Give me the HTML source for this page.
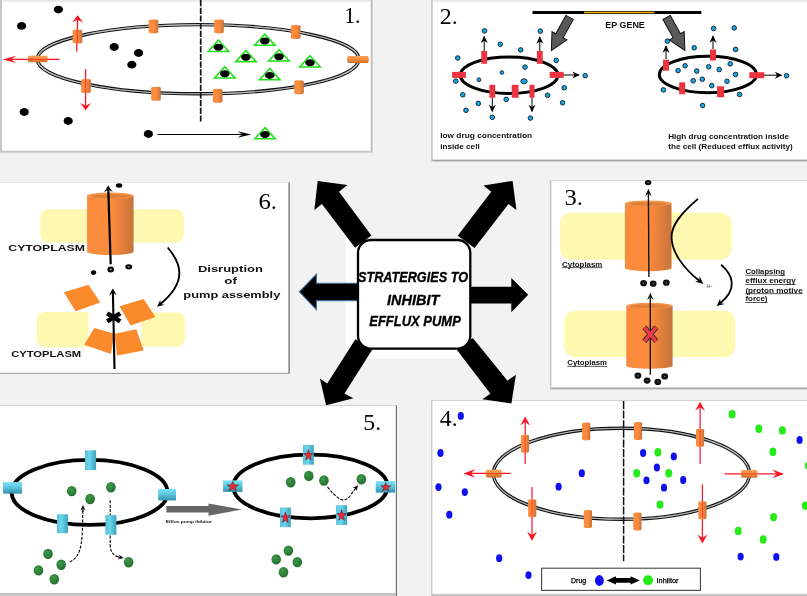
<!DOCTYPE html>
<html><head><meta charset="utf-8"><title>Strategies to inhibit efflux pump</title>
<style>
html,body{margin:0;padding:0;background:#f2f2f2;}
body{width:807px;height:596px;overflow:hidden;font-family:"Liberation Sans",sans-serif;}
svg{display:block;will-change:transform;}
.num{font-family:"Liberation Serif",serif;font-size:23px;fill:#000;}
.b{font-family:"Liberation Sans",sans-serif;font-weight:bold;fill:#111;}
.bi{font-family:"Liberation Sans",sans-serif;font-weight:bold;font-style:italic;fill:#000;stroke:#000;stroke-width:0.35px;}
</style></head><body>
<svg width="807" height="596" viewBox="0 0 807 596">
<defs>
<linearGradient id="og" x1="0" y1="0" x2="1" y2="0"><stop offset="0" stop-color="#fa8a3d"/><stop offset="0.5" stop-color="#fe8c3c"/><stop offset="0.78" stop-color="#e07e3c"/><stop offset="1" stop-color="#c4733b"/></linearGradient>
<linearGradient id="ogv" x1="0" y1="0" x2="0" y2="1"><stop offset="0" stop-color="#f9a05a"/><stop offset="0.5" stop-color="#f58a3c"/><stop offset="1" stop-color="#cf6f2c"/></linearGradient>
<linearGradient id="cy" x1="0" y1="0" x2="1" y2="0"><stop offset="0" stop-color="#55c2dc"/><stop offset="0.4" stop-color="#6ed5ea"/><stop offset="1" stop-color="#3ba2be"/></linearGradient>
<linearGradient id="cyv" x1="0" y1="0" x2="0" y2="1"><stop offset="0" stop-color="#7fe1f5"/><stop offset="0.45" stop-color="#5cc8e0"/><stop offset="1" stop-color="#3391ab"/></linearGradient>
<radialGradient id="gr" cx="0.4" cy="0.35" r="0.7"><stop offset="0" stop-color="#3f9a4a"/><stop offset="1" stop-color="#236b2c"/></radialGradient>
<marker id="ah" viewBox="0 0 10 10" refX="9" refY="5" markerWidth="7" markerHeight="7" orient="auto-start-reverse"><path d="M0,0.5 L10,5 L0,9.5 L3,5 Z" fill="#000"/></marker>
<marker id="ahm" viewBox="0 0 10 10" refX="9" refY="5" markerWidth="8.6" markerHeight="7.4" orient="auto-start-reverse" markerUnits="userSpaceOnUse"><path d="M0,0.3 L10,5 L0,9.7 L3,5 Z" fill="#000"/></marker>
<marker id="ahs" viewBox="0 0 10 10" refX="9" refY="5" markerWidth="5" markerHeight="5" orient="auto-start-reverse"><path d="M0,0.5 L10,5 L0,9.5 L3,5 Z" fill="#000"/></marker>
<marker id="ar" viewBox="0 0 10 10" refX="9" refY="5" markerWidth="9" markerHeight="9" orient="auto-start-reverse"><path d="M0,0.5 L10,5 L0,9.5 L3.2,5 Z" fill="#fa1422"/></marker>
</defs>
<rect x="0" y="0" width="807" height="596" fill="#f2f2f2"/>

<rect x="0" y="0" width="372.8" height="152.7" fill="#c6c6c6"/>
<rect x="1.9" y="0" width="368.7" height="1.4" fill="#e9e9e9"/>
<rect x="1.9" y="1.4" width="368.7" height="149.3" fill="#fff"/>
<rect x="431.2" y="0" width="375.8" height="161.6" fill="#c4c4c4"/>
<rect x="432.7" y="0" width="374.3" height="1.4" fill="#e9e9e9"/>
<rect x="432.7" y="1.4" width="374.3" height="158.1" fill="#fff"/>
<rect x="432.7" y="159.9" width="374.3" height="1.2" fill="#a4a4a4"/>
<rect x="0" y="182" width="289.7" height="192" fill="#c9c9c9"/>
<rect x="0" y="182.5" width="288.6" height="190.4" fill="#fff"/>
<rect x="288.6" y="182.5" width="1.1" height="191.3" fill="#6a6a6a"/>
<rect x="0" y="372.9" width="289" height="1" fill="#a0a0a0"/>
<rect x="549.9" y="180.3" width="257.1" height="209.3" fill="#c6c6c6"/>
<rect x="551.4" y="181" width="255.6" height="206.4" fill="#fff"/>
<rect x="551.4" y="387.8" width="255.6" height="1.2" fill="#a8a8a8"/>
<rect x="0" y="405.1" width="397" height="190.9" fill="#c4c4c4"/>
<rect x="0" y="405.8" width="395.5" height="187.2" fill="#fff"/>
<rect x="396.1" y="405.5" width="0.9" height="190.5" fill="#666"/>
<rect x="431.1" y="400.2" width="375.9" height="195.8" fill="#c6c6c6"/>
<rect x="432.4" y="400.9" width="374.6" height="192.9" fill="#fff"/>
<rect x="346" y="239" width="125" height="119.5" fill="#fff"/>
<polygon points="317.7,180.9 347.4,185.1 339,191.8 371.4,235.5 355.1,247.7 321.9,204.1 314.3,210" fill="#000"/>
<polygon points="512.6,180.9 483.4,185.5 491.2,191.8 457.7,235.8 474.5,248.1 508.5,204.1 516.4,210" fill="#000"/>
<polygon points="299.3,291.8 316.4,274.2 316.4,283.2 358.2,283.2 358.2,300.6 316.4,300.6 316.4,309.6" fill="#000" stroke="#41719c" stroke-width="1.1"/>
<polygon points="528.2,294.8 511.3,277.9 511.3,286.7 468.3,286.7 468.3,303.6 511.3,303.6 511.3,312.2" fill="#000"/>
<polygon points="355.4,339.3 372.2,349.8 344.5,393.5 353.4,398.3 326.1,405.2 319.9,378.4 327.2,383.4" fill="#000"/>
<polygon points="472.8,338.1 456.8,349.8 490.4,393.8 482.3,399.3 511.4,403.5 515.9,374.8 507.5,380.7" fill="#000"/>
<rect x="358" y="240" width="112.3" height="108.7" rx="13" ry="13" fill="#fff" stroke="#000" stroke-width="2.3"/>
<text class="bi" x="358" y="282.1" font-size="15.4" textLength="110" lengthAdjust="spacingAndGlyphs">STRATERGIES TO</text>
<text class="bi" x="387" y="304.6" font-size="15.4" textLength="52.4" lengthAdjust="spacingAndGlyphs">INHIBIT</text>
<text class="bi" x="369.3" y="326" font-size="15.4" textLength="91.5" lengthAdjust="spacingAndGlyphs">EFFLUX PUMP</text>
<ellipse cx="198.1" cy="59.2" rx="160.8" ry="34.6" fill="none" stroke="#111" stroke-width="3.4"/>
<ellipse cx="198.1" cy="59.2" rx="160.8" ry="34.6" fill="none" stroke="#fff" stroke-width="1.1"/>
<ellipse cx="198.1" cy="59.2" rx="160.8" ry="34.6" fill="none" stroke="#222" stroke-width="0.35"/>
<line x1="200.7" y1="0" x2="200.7" y2="121.5" stroke="#111" stroke-width="1.7" stroke-dasharray="6.2,1.5"/>
<ellipse cx="58.4" cy="9.6" rx="4.6" ry="3.9" fill="#000"/>
<ellipse cx="21.6" cy="25.9" rx="4.6" ry="3.9" fill="#000"/>
<ellipse cx="114.2" cy="47" rx="4.6" ry="3.9" fill="#000"/>
<ellipse cx="138.6" cy="53" rx="4.6" ry="3.9" fill="#000"/>
<ellipse cx="131.8" cy="64.7" rx="4.6" ry="3.9" fill="#000"/>
<ellipse cx="24.2" cy="112" rx="4.6" ry="3.9" fill="#000"/>
<ellipse cx="68.2" cy="121" rx="4.6" ry="3.9" fill="#000"/>
<ellipse cx="148.4" cy="134" rx="4.6" ry="3.9" fill="#000"/>
<line x1="76.6" y1="51.8" x2="77.7" y2="19.8" stroke="#fa1422" stroke-width="1.25"/><polygon points="77.8,15.3 83.1,22.7 77.7,19.8 72.1,22.3" fill="#fa1422"/>
<line x1="59.5" y1="59.4" x2="11.1" y2="59.4" stroke="#fa1422" stroke-width="1.25"/><polygon points="2.7,59.4 16.2,55.7 11.1,59.4 16.2,63.1" fill="#fa1422"/>
<line x1="85.6" y1="69" x2="85.6" y2="105.8" stroke="#fa1422" stroke-width="1.25"/><polygon points="85.6,110.3 80.1,103.1 85.6,105.8 91.1,103.1" fill="#fa1422"/>
<path d="M72.7,30.8 A4.8,1.3 0 0 1 82.3,30.8 L82.3,42.2 A4.8,1.3 0 0 1 72.7,42.2 Z" fill="url(#og)"/>
<path d="M81.2,80.3 A4.8,1.3 0 0 1 90.8,80.3 L90.8,91.7 A4.8,1.3 0 0 1 81.2,91.7 Z" fill="url(#og)"/>
<path d="M148.7,20.7 A4.8,1.3 0 0 1 158.3,20.7 L158.3,32.1 A4.8,1.3 0 0 1 148.7,32.1 Z" fill="url(#og)"/>
<path d="M151.2,88.1 A4.8,1.3 0 0 1 160.8,88.1 L160.8,99.5 A4.8,1.3 0 0 1 151.2,99.5 Z" fill="url(#og)"/>
<path d="M214.2,20.7 A4.8,1.3 0 0 1 223.8,20.7 L223.8,32.1 A4.8,1.3 0 0 1 214.2,32.1 Z" fill="url(#og)"/>
<path d="M290.9,26.3 A4.8,1.3 0 0 1 300.5,26.3 L300.5,37.7 A4.8,1.3 0 0 1 290.9,37.7 Z" fill="url(#og)"/>
<path d="M294.2,81.6 A4.8,1.3 0 0 1 303.8,81.6 L303.8,93.0 A4.8,1.3 0 0 1 294.2,93.0 Z" fill="url(#og)"/>
<path d="M212.9,90.1 A4.8,1.3 0 0 1 222.5,90.1 L222.5,101.5 A4.8,1.3 0 0 1 212.9,101.5 Z" fill="url(#og)"/>
<path d="M29.0,55.8 L46.4,55.8 A1.3,3.2 0 0 1 46.4,62.2 L29.0,62.2 A1.3,3.2 0 0 1 29.0,55.8 Z" fill="url(#ogv)"/>
<path d="M348.5,55.9 L367.5,55.9 A1.3,3.5 0 0 1 367.5,62.9 L348.5,62.9 A1.3,3.5 0 0 1 348.5,55.9 Z" fill="url(#ogv)"/>
<line x1="77.3" y1="30" x2="77.6" y2="43" stroke="#fa1422" stroke-width="0.9" opacity="0.75"/>
<line x1="85.6" y1="79" x2="85.6" y2="93" stroke="#fa1422" stroke-width="0.9" opacity="0.75"/>
<line x1="28" y1="59.4" x2="48" y2="59.4" stroke="#fa1422" stroke-width="0.9" opacity="0.75"/>
<polygon points="218.5,40.3 228.7,51.5 208.3,51.5" fill="#fff" stroke="#1fe01a" stroke-width="1.6" stroke-linejoin="miter"/>
<ellipse cx="218.5" cy="47.2" rx="4.8" ry="3.5" fill="#000"/>
<polygon points="264.8,34.1 275.0,45.3 254.6,45.3" fill="#fff" stroke="#1fe01a" stroke-width="1.6" stroke-linejoin="miter"/>
<ellipse cx="264.8" cy="41.0" rx="4.8" ry="3.5" fill="#000"/>
<polygon points="245.9,50.4 256.1,61.6 235.7,61.6" fill="#fff" stroke="#1fe01a" stroke-width="1.6" stroke-linejoin="miter"/>
<ellipse cx="245.9" cy="57.3" rx="4.8" ry="3.5" fill="#000"/>
<polygon points="279.0,49.8 289.2,61.0 268.8,61.0" fill="#fff" stroke="#1fe01a" stroke-width="1.6" stroke-linejoin="miter"/>
<ellipse cx="279" cy="56.7" rx="4.8" ry="3.5" fill="#000"/>
<polygon points="310.0,55.8 320.2,67.0 299.8,67.0" fill="#fff" stroke="#1fe01a" stroke-width="1.6" stroke-linejoin="miter"/>
<ellipse cx="310" cy="62.7" rx="4.8" ry="3.5" fill="#000"/>
<polygon points="224.8,66.8 235.0,78.0 214.6,78.0" fill="#fff" stroke="#1fe01a" stroke-width="1.6" stroke-linejoin="miter"/>
<ellipse cx="224.8" cy="73.7" rx="4.8" ry="3.5" fill="#000"/>
<polygon points="269.8,68.5 280.0,79.7 259.6,79.7" fill="#fff" stroke="#1fe01a" stroke-width="1.6" stroke-linejoin="miter"/>
<ellipse cx="269.8" cy="75.4" rx="4.8" ry="3.5" fill="#000"/>
<polygon points="265.0,127.6 275.2,138.8 254.8,138.8" fill="#fff" stroke="#1fe01a" stroke-width="1.6" stroke-linejoin="miter"/>
<ellipse cx="265" cy="134.5" rx="4.8" ry="3.5" fill="#000"/>
<line x1="157.5" y1="134.5" x2="242.6" y2="134.5" stroke="#000" stroke-width="1.0"/><polygon points="251.3,134.5 237.3,137.8 242.6,134.5 237.3,131.2" fill="#000"/>
<text class="num" x="344.2" y="22.6" textLength="16.4" lengthAdjust="spacingAndGlyphs">1.</text>
<text class="num" x="439.8" y="24.2" font-size="24.5" textLength="18" lengthAdjust="spacingAndGlyphs">2.</text>
<rect x="532.5" y="11" width="168.8" height="3" fill="#000"/>
<rect x="584" y="11.7" width="70.5" height="1.6" fill="#f4b400"/>
<text class="b" x="605.3" y="28.4" font-size="9.2" textLength="39.5" lengthAdjust="spacingAndGlyphs">EP GENE</text>
<g transform="translate(569.6,17.4) rotate(28.9)"><polygon points="-4.2,0 4.2,0 4.2,21 8.5,21 0,37.8 -8.5,21 -4.2,21" fill="#595959" stroke="#111" stroke-width="1"/></g>
<g transform="translate(666.6,17.4) rotate(-28.9)"><polygon points="-4.2,0 4.2,0 4.2,21 8.5,21 0,37.8 -8.5,21 -4.2,21" fill="#595959" stroke="#111" stroke-width="1"/></g>
<ellipse cx="509.1" cy="75.3" rx="48.8" ry="18.2" fill="none" stroke="#000" stroke-width="3"/>
<circle cx="484.5" cy="30.9" r="2.3" fill="#1ea3e3" stroke="#06202e" stroke-width="0.9"/>
<circle cx="540.3" cy="31.1" r="2.3" fill="#1ea3e3" stroke="#06202e" stroke-width="0.9"/>
<circle cx="500.3" cy="44.3" r="2.3" fill="#1ea3e3" stroke="#06202e" stroke-width="0.9"/>
<circle cx="520.7" cy="49.9" r="2.3" fill="#1ea3e3" stroke="#06202e" stroke-width="0.9"/>
<circle cx="457.7" cy="58" r="2.3" fill="#1ea3e3" stroke="#06202e" stroke-width="0.9"/>
<circle cx="556.2" cy="60.4" r="2.3" fill="#1ea3e3" stroke="#06202e" stroke-width="0.9"/>
<circle cx="525" cy="67.1" r="2.3" fill="#1ea3e3" stroke="#06202e" stroke-width="0.9"/>
<circle cx="585.2" cy="75.7" r="2.3" fill="#1ea3e3" stroke="#06202e" stroke-width="0.9"/>
<circle cx="455.8" cy="81.1" r="2.3" fill="#1ea3e3" stroke="#06202e" stroke-width="0.9"/>
<circle cx="564.2" cy="87.8" r="2.3" fill="#1ea3e3" stroke="#06202e" stroke-width="0.9"/>
<circle cx="462.8" cy="94.8" r="2.3" fill="#1ea3e3" stroke="#06202e" stroke-width="0.9"/>
<circle cx="547.6" cy="95.3" r="2.3" fill="#1ea3e3" stroke="#06202e" stroke-width="0.9"/>
<circle cx="506.2" cy="99.3" r="2.3" fill="#1ea3e3" stroke="#06202e" stroke-width="0.9"/>
<circle cx="478.3" cy="103.4" r="2.3" fill="#1ea3e3" stroke="#06202e" stroke-width="0.9"/>
<circle cx="562.6" cy="102.8" r="2.3" fill="#1ea3e3" stroke="#06202e" stroke-width="0.9"/>
<circle cx="466" cy="110.3" r="2.3" fill="#1ea3e3" stroke="#06202e" stroke-width="0.9"/>
<circle cx="492.3" cy="117.3" r="2.3" fill="#1ea3e3" stroke="#06202e" stroke-width="0.9"/>
<circle cx="530.4" cy="118.1" r="2.3" fill="#1ea3e3" stroke="#06202e" stroke-width="0.9"/>
<circle cx="501.9" cy="72.5" r="1.8" fill="#1ea3e3" stroke="#06202e" stroke-width="0.9"/>
<circle cx="478.9" cy="79.7" r="1.9" fill="#1ea3e3" stroke="#06202e" stroke-width="0.9"/>
<ellipse cx="524" cy="81.3" rx="3.2" ry="2.5" fill="#1ea3e3" stroke="#06202e" stroke-width="0.9"/>
<line x1="484.2" y1="51" x2="484.2" y2="36.4" stroke="#000" stroke-width="1" marker-end="url(#ahm)"/>
<line x1="539.8" y1="51" x2="539.8" y2="37" stroke="#000" stroke-width="1" marker-end="url(#ahm)"/>
<line x1="563" y1="75" x2="579" y2="75" stroke="#000" stroke-width="1" marker-end="url(#ahm)"/>
<line x1="492.3" y1="98" x2="492.3" y2="111.4" stroke="#000" stroke-width="1" marker-end="url(#ahm)"/>
<line x1="532" y1="98" x2="532" y2="111.4" stroke="#000" stroke-width="1" marker-end="url(#ahm)"/>
<rect x="481.3" y="51.0" width="5.8" height="12.8" fill="#ea3440"/>
<rect x="536.9" y="51.0" width="5.8" height="12.8" fill="#ea3440"/>
<rect x="452.1" y="71.9" width="13.8" height="6" fill="#ea3440"/>
<rect x="549.7" y="71.9" width="14" height="6" fill="#ea3440"/>
<rect x="489.4" y="84.8" width="5.8" height="13" fill="#ea3440"/>
<rect x="511.7" y="84.8" width="6.8" height="13" fill="#ea3440"/>
<rect x="529.5" y="84.8" width="5" height="13" fill="#ea3440"/>
<text class="b" x="440.2" y="138.2" font-size="8.1" textLength="92" lengthAdjust="spacingAndGlyphs">low drug  concentration</text>
<text class="b" x="440.2" y="148.6" font-size="8.1" textLength="39.5" lengthAdjust="spacingAndGlyphs">inside cell</text>
<ellipse cx="707.9" cy="74.5" rx="48.6" ry="18.2" fill="none" stroke="#000" stroke-width="3"/>
<circle cx="713.6" cy="28.5" r="2.3" fill="#1ea3e3" stroke="#06202e" stroke-width="0.9"/>
<circle cx="734.2" cy="27.9" r="2.3" fill="#1ea3e3" stroke="#06202e" stroke-width="0.9"/>
<circle cx="667.4" cy="41.1" r="2.3" fill="#1ea3e3" stroke="#06202e" stroke-width="0.9"/>
<circle cx="694.2" cy="47.8" r="2.3" fill="#1ea3e3" stroke="#06202e" stroke-width="0.9"/>
<circle cx="735.6" cy="49.4" r="2.3" fill="#1ea3e3" stroke="#06202e" stroke-width="0.9"/>
<circle cx="685.1" cy="65.8" r="2.3" fill="#1ea3e3" stroke="#06202e" stroke-width="0.9"/>
<circle cx="678.1" cy="70.6" r="2.3" fill="#1ea3e3" stroke="#06202e" stroke-width="0.9"/>
<circle cx="696.7" cy="71.1" r="2.3" fill="#1ea3e3" stroke="#06202e" stroke-width="0.9"/>
<circle cx="708.7" cy="66.8" r="2.3" fill="#1ea3e3" stroke="#06202e" stroke-width="0.9"/>
<circle cx="719.2" cy="69.5" r="2.3" fill="#1ea3e3" stroke="#06202e" stroke-width="0.9"/>
<circle cx="730.2" cy="63.9" r="2.3" fill="#1ea3e3" stroke="#06202e" stroke-width="0.9"/>
<circle cx="735.6" cy="74.4" r="2.3" fill="#1ea3e3" stroke="#06202e" stroke-width="0.9"/>
<circle cx="693.2" cy="80.8" r="2.3" fill="#1ea3e3" stroke="#06202e" stroke-width="0.9"/>
<circle cx="702.3" cy="79.2" r="2.3" fill="#1ea3e3" stroke="#06202e" stroke-width="0.9"/>
<circle cx="727" cy="81.3" r="2.3" fill="#1ea3e3" stroke="#06202e" stroke-width="0.9"/>
<circle cx="711.7" cy="85.6" r="2.3" fill="#1ea3e3" stroke="#06202e" stroke-width="0.9"/>
<circle cx="786.6" cy="75.7" r="2.3" fill="#1ea3e3" stroke="#06202e" stroke-width="0.9"/>
<circle cx="663.4" cy="89.9" r="2.3" fill="#1ea3e3" stroke="#06202e" stroke-width="0.9"/>
<circle cx="739.6" cy="94.5" r="2.3" fill="#1ea3e3" stroke="#06202e" stroke-width="0.9"/>
<circle cx="702.6" cy="105.5" r="2.3" fill="#1ea3e3" stroke="#06202e" stroke-width="0.9"/>
<line x1="666" y1="59" x2="666" y2="46" stroke="#000" stroke-width="1" marker-end="url(#ahm)"/>
<line x1="713" y1="49" x2="713" y2="36" stroke="#000" stroke-width="1" marker-end="url(#ahm)"/>
<line x1="764" y1="75.2" x2="781.5" y2="75.2" stroke="#000" stroke-width="1" marker-end="url(#ahm)"/>
<rect x="663.0" y="59.7" width="6" height="11" fill="#ea3440"/>
<rect x="710.0" y="49.5" width="6" height="11" fill="#ea3440"/>
<rect x="749.3" y="72.2" width="15" height="6" fill="#ea3440"/>
<rect x="679.2" y="82.3" width="6" height="12" fill="#ea3440"/>
<rect x="717.1" y="86.3" width="7" height="11" fill="#ea3440"/>
<text class="b" x="668.2" y="138.8" font-size="8.1" textLength="120.8" lengthAdjust="spacingAndGlyphs">High drug concentration inside</text>
<text class="b" x="668.2" y="149.1" font-size="8.1" textLength="124.6" lengthAdjust="spacingAndGlyphs">the cell (Reduced efflux activity)</text><rect x="40.3" y="209.3" width="143.5" height="33.4" rx="8" ry="8" fill="#fff8b0"/>
<path d="M87.1,195.8 L87.1,251.7 A23.2,3.3 0 0 0 133.6,251.7 L133.6,195.8 Z" fill="url(#og)"/>
<ellipse cx="110.35" cy="195.8" rx="23.2" ry="3.3" fill="#f7954a"/>
<ellipse cx="110.35" cy="196.20000000000002" rx="19.2" ry="2.2" fill="#e07f3a"/>
<line x1="110.7" y1="264.3" x2="108.3" y2="189.6" stroke="#000" stroke-width="2.2"/><polygon points="108.2,185.6 112.7,192.0 108.3,189.6 104.1,192.2" fill="#000"/>
<ellipse cx="119.1" cy="185.5" rx="3.2" ry="2.2" fill="#000"/>
<text class="b" x="8.3" y="250.5" font-size="9.4" textLength="76.7" lengthAdjust="spacingAndGlyphs">CYTOPLASM</text>
<ellipse cx="93.6" cy="272.6" rx="2.6" ry="2.3" fill="#000"/>
<ellipse cx="110.7" cy="269.6" rx="2.3" ry="2" fill="#888" stroke="#000" stroke-width="2"/>
<ellipse cx="128.8" cy="266.8" rx="2.6" ry="1.6" fill="#999" stroke="#000" stroke-width="1.9"/>
<path d="M167.7,247.5 C180,262 189,281 160,304.3" fill="none" stroke="#000" stroke-width="1.9"/>
<line x1="163" y1="301.7" x2="160.4" y2="303.9" stroke="#000" stroke-width="1.5"/><polygon points="157.1,306.7 160.3,299.7 160.4,303.9 164.5,304.7" fill="#000"/>
<path d="M44.7,312 L88.5,312 L88.5,347.2 L44.7,347.2 A8,8 0 0 1 36.7,339.2 L36.7,320 A8,8 0 0 1 44.7,312 Z" fill="#fff8b0"/>
<path d="M141.3,312.5 L177.1,312.5 A8,8 0 0 1 185.1,320.5 L185.1,338.7 A8,8 0 0 1 177.1,346.7 L141.3,346.7 Z" fill="#fff8b0"/>
<polygon points="63.9,292.2 88.5,284.7 100.4,302.6 75.6,311.3" fill="#fb8a2c"/>
<polygon points="119.5,306.3 143.7,299.1 155.4,317 130.6,325.6" fill="#fb8a2c"/>
<polygon points="94.2,328.1 114.5,333.8 110.8,354.1 84.3,344.7" fill="#fb8a2c"/>
<polygon points="114.5,333.8 136.3,329.3 143.7,350.4 117,355.4" fill="#fb8a2c"/>
<line x1="114.5" y1="369" x2="112.9" y2="292.7" stroke="#000" stroke-width="2.1"/><polygon points="112.8,288.4 116.7,295.3 112.9,292.7 109.1,295.5" fill="#000"/>
<path d="M107.2,313.4 L120.2,321.4 M120.2,313.4 L107.2,321.4" stroke="#000" stroke-width="4.6" fill="none"/>
<text class="b" x="11.2" y="357" font-size="8.6" textLength="70" lengthAdjust="spacingAndGlyphs">CYTOPLASM</text>
<text class="b" x="197.9" y="271.9" font-size="9.6" textLength="65" lengthAdjust="spacingAndGlyphs">Disruption</text>
<text class="b" x="224.3" y="284.4" font-size="9.6" textLength="12.6" lengthAdjust="spacingAndGlyphs">of</text>
<text class="b" x="183.3" y="297.5" font-size="9.6" textLength="97" lengthAdjust="spacingAndGlyphs">pump assembly</text>
<text class="num" x="258.4" y="208.5" textLength="18.6" lengthAdjust="spacingAndGlyphs">6.</text>
<rect x="560" y="212.7" width="171.7" height="47.1" rx="11" ry="11" fill="#fff8b0"/>
<rect x="564.3" y="310.8" width="171" height="46.3" rx="11" ry="11" fill="#fff8b0"/>
<path d="M625,203.4 L625,268.2 A23.2,3.0 0 0 0 671.5,268.2 L671.5,203.4 Z" fill="url(#og)"/>
<ellipse cx="648.25" cy="203.4" rx="23.2" ry="3.0" fill="#f7954a"/>
<ellipse cx="648.25" cy="203.8" rx="19.2" ry="1.9" fill="#e07f3a"/>
<path d="M626.3,305.8 L626.3,366.0 A23.2,3.0 0 0 0 672.6,366.0 L672.6,305.8 Z" fill="url(#og)"/>
<ellipse cx="649.45" cy="305.8" rx="23.2" ry="3.0" fill="#f7954a"/>
<ellipse cx="649.45" cy="306.2" rx="19.2" ry="1.9" fill="#e07f3a"/>
<line x1="648.9" y1="276.9" x2="648.4" y2="193.4" stroke="#151515" stroke-width="1.4"/><polygon points="648.4,188.8 651.7,196.3 648.4,193.4 645.1,196.3" fill="#151515"/>
<line x1="650.3" y1="374.7" x2="650.3" y2="297.3" stroke="#151515" stroke-width="1.4"/><polygon points="650.3,292.7 653.6,300.2 650.3,297.3 647.0,300.2" fill="#151515"/>
<ellipse cx="648.1" cy="182.6" rx="3.3" ry="2.7" fill="#111"/><circle cx="648.1" cy="182.6" r="0.7" fill="#888"/>
<ellipse cx="643.6" cy="283.2" rx="3.4" ry="3.1" fill="#111"/><circle cx="643.6" cy="283.2" r="0.7" fill="#777"/>
<ellipse cx="653.2" cy="283.7" rx="3.4" ry="3.1" fill="#111"/><circle cx="653.2" cy="283.7" r="0.7" fill="#777"/>
<ellipse cx="666.3" cy="282.7" rx="3.4" ry="3.1" fill="#111"/><circle cx="666.3" cy="282.7" r="0.7" fill="#777"/>
<ellipse cx="637.9" cy="375.7" rx="3.4" ry="3.1" fill="#111"/><circle cx="637.9" cy="375.7" r="0.7" fill="#777"/>
<ellipse cx="647.1" cy="380.6" rx="3.4" ry="3.1" fill="#111"/><circle cx="647.1" cy="380.6" r="0.7" fill="#777"/>
<ellipse cx="657.8" cy="381.9" rx="3.4" ry="3.1" fill="#111"/><circle cx="657.8" cy="381.9" r="0.7" fill="#777"/>
<ellipse cx="664.7" cy="376.4" rx="3.4" ry="3.1" fill="#111"/><circle cx="664.7" cy="376.4" r="0.7" fill="#777"/>
<path d="M698,198.9 C680,214 671,226 671.6,238 C672,252 683,268 699.5,281" fill="none" stroke="#000" stroke-width="1.8"/>
<line x1="697" y1="278.6" x2="699.5" y2="280.8" stroke="#000" stroke-width="1.5"/><polygon points="703.3,284.0 694.9,281.5 699.5,280.8 699.5,276.1" fill="#000"/>
<path d="M721.1,264.8 C733,275 738,289 720,303.3" fill="none" stroke="#000" stroke-width="1.8"/>
<line x1="722.5" y1="301.2" x2="720.2" y2="303.1" stroke="#000" stroke-width="1.5"/><polygon points="716.6,306.0 720.2,298.6 720.2,303.1 724.6,304.0" fill="#000"/>
<text x="706.6" y="288.4" font-size="5.4" font-family="Liberation Sans, sans-serif" fill="#555">H<tspan dy="-1.8" font-size="3.6">+</tspan></text>
<path d="M644.3,327.3 L656.3,341.3 M656.3,327.3 L644.3,341.3" stroke="#3a2a2a" stroke-width="5.2" fill="none"/>
<path d="M644.3,327.3 L656.3,341.3 M656.3,327.3 L644.3,341.3" stroke="#ee3a48" stroke-width="3.4" fill="none"/>
<text class="b" x="562.1" y="266.5" font-size="7.0" textLength="40.3" lengthAdjust="spacingAndGlyphs">Cytoplasm</text>
<rect x="562.1" y="267.4" width="40.3" height="0.7" fill="#111"/>
<text class="b" x="567.3" y="365" font-size="7.0" textLength="39.7" lengthAdjust="spacingAndGlyphs">Cytoplasm</text>
<rect x="567.3" y="365.9" width="39.7" height="0.7" fill="#111"/>
<text class="b" x="745.4" y="273.9" font-size="7.0" textLength="39.7" lengthAdjust="spacingAndGlyphs">Collapsing</text>
<rect x="745.4" y="274.79999999999995" width="39.7" height="0.7" fill="#111"/>
<text class="b" x="745.4" y="283.2" font-size="7.0" textLength="50.3" lengthAdjust="spacingAndGlyphs">efflux energy</text>
<rect x="745.4" y="284.09999999999997" width="50.3" height="0.7" fill="#111"/>
<text class="b" x="745.4" y="292.5" font-size="7.0" textLength="57.3" lengthAdjust="spacingAndGlyphs">(proton motive</text>
<rect x="745.4" y="293.4" width="57.3" height="0.7" fill="#111"/>
<text class="b" x="745.4" y="301.3" font-size="7.0" textLength="22.1" lengthAdjust="spacingAndGlyphs">force)</text>
<rect x="745.4" y="302.2" width="22.1" height="0.7" fill="#111"/>
<text class="num" x="564.4" y="204.7" font-size="24" textLength="18.4" lengthAdjust="spacingAndGlyphs">3.</text>
<ellipse cx="89.6" cy="492.4" rx="78" ry="32.5" fill="none" stroke="#000" stroke-width="3.8"/>
<ellipse cx="310.4" cy="486.5" rx="77.2" ry="31.8" fill="none" stroke="#000" stroke-width="3.8"/>
<path d="M69.7,561.8 C84,556 82,535 82.9,509" fill="none" stroke="#000" stroke-width="1.1" stroke-dasharray="3,1.4"/>
<line x1="82.9" y1="512" x2="83.0" y2="508.4" stroke="#000" stroke-width="1"/><polygon points="83.0,505.0 85.4,510.5 83.0,508.4 80.4,510.5" fill="#000"/>
<path d="M110.2,500.3 L110.2,545 C110.5,553 114,556 120,557.3" fill="none" stroke="#000" stroke-width="1.1" stroke-dasharray="3,1.4"/>
<line x1="118" y1="556.9" x2="120.3" y2="557.3" stroke="#000" stroke-width="1"/><polygon points="123.6,558.0 117.7,559.4 120.3,557.3 118.7,554.5" fill="#000"/>
<path d="M327.5,487.1 C336,497 343,505 350,496 C352,493 354,490.5 355.5,488.5" fill="none" stroke="#000" stroke-width="1.1" stroke-dasharray="3,1.4"/>
<line x1="354" y1="490.5" x2="355.9" y2="488.0" stroke="#000" stroke-width="1"/><polygon points="358.0,485.3 356.6,491.2 355.9,488.0 352.7,488.1" fill="#000"/>
<rect x="84.9" y="450.3" width="11.2" height="19.7" fill="url(#cy)"/>
<rect x="3.0" y="482.1" width="19" height="11.5" fill="url(#cyv)"/>
<rect x="158.2" y="488.9" width="17.8" height="11.5" fill="url(#cyv)"/>
<rect x="57.0" y="514.2" width="10.9" height="19" fill="url(#cy)"/>
<rect x="105.5" y="515.1" width="10.9" height="19.7" fill="url(#cy)"/>
<rect x="303.0" y="445.0" width="10.8" height="19.7" fill="url(#cy)"/>
<rect x="223.1" y="480.4" width="19.4" height="11.5" fill="url(#cyv)"/>
<rect x="375.7" y="481.1" width="19.4" height="11.5" fill="url(#cyv)"/>
<rect x="280.0" y="507.5" width="10.8" height="19.7" fill="url(#cy)"/>
<rect x="336.1" y="505.2" width="11" height="19.7" fill="url(#cy)"/>
<polygon points="308.40,449.58 309.58,453.42 312.95,453.60 310.31,456.16 311.21,460.11 308.40,457.85 305.59,460.11 306.49,456.16 303.85,453.60 307.22,453.42" fill="#ee2a3a" stroke="#5a2020" stroke-width="0.6"/>
<polygon points="232.80,481.40 234.28,484.83 238.49,484.99 235.19,487.27 236.31,490.81 232.80,488.78 229.29,490.81 230.41,487.27 227.11,484.99 231.32,484.83" fill="#ee2a3a" stroke="#5a2020" stroke-width="0.6"/>
<polygon points="385.80,482.60 387.07,485.64 390.70,485.78 387.86,487.80 388.83,490.92 385.80,489.13 382.77,490.92 383.74,487.80 380.90,485.78 384.53,485.64" fill="#ee2a3a" stroke="#5a2020" stroke-width="0.6"/>
<polygon points="285.40,511.98 286.58,515.82 289.95,516.00 287.31,518.56 288.21,522.51 285.40,520.25 282.59,522.51 283.49,518.56 280.85,516.00 284.22,515.82" fill="#ee2a3a" stroke="#5a2020" stroke-width="0.6"/>
<polygon points="341.60,509.68 342.78,513.52 346.15,513.70 343.51,516.26 344.41,520.21 341.60,517.95 338.79,520.21 339.69,516.26 337.05,513.70 340.42,513.52" fill="#ee2a3a" stroke="#5a2020" stroke-width="0.6"/>
<ellipse cx="71.7" cy="491.1" rx="4.8" ry="5.2" fill="url(#gr)"/>
<ellipse cx="90.1" cy="499" rx="4.8" ry="5.2" fill="url(#gr)"/>
<ellipse cx="110.9" cy="487.2" rx="4.8" ry="5.2" fill="url(#gr)"/>
<ellipse cx="48" cy="553.9" rx="4.8" ry="5.2" fill="url(#gr)"/>
<ellipse cx="61.2" cy="564.8" rx="4.8" ry="5.2" fill="url(#gr)"/>
<ellipse cx="38.5" cy="570.4" rx="4.8" ry="5.2" fill="url(#gr)"/>
<ellipse cx="54.3" cy="579.3" rx="4.8" ry="5.2" fill="url(#gr)"/>
<ellipse cx="128.6" cy="562.2" rx="4.8" ry="5.2" fill="url(#gr)"/>
<ellipse cx="290.7" cy="482.2" rx="4.8" ry="5.2" fill="url(#gr)"/>
<ellipse cx="308.8" cy="475.9" rx="4.8" ry="5.2" fill="url(#gr)"/>
<ellipse cx="323.9" cy="480.5" rx="4.8" ry="5.2" fill="url(#gr)"/>
<ellipse cx="361.4" cy="479.2" rx="4.8" ry="5.2" fill="url(#gr)"/>
<ellipse cx="288.4" cy="550.6" rx="4.8" ry="5.2" fill="url(#gr)"/>
<ellipse cx="276.2" cy="559.4" rx="4.8" ry="5.2" fill="url(#gr)"/>
<ellipse cx="297.3" cy="562.1" rx="4.8" ry="5.2" fill="url(#gr)"/>
<ellipse cx="283.5" cy="572.3" rx="4.8" ry="5.2" fill="url(#gr)"/>
<polygon points="166.4,505.9 208.5,505.9 208.5,503.4 242,509.4 208.5,515.8 208.5,512.4 166.4,512.4" fill="#666"/>
<text class="b" x="165.8" y="522.6" font-size="4.3" textLength="46" lengthAdjust="spacingAndGlyphs">Efflux pump ihibitor</text>
<text class="num" x="363.3" y="429.6" textLength="17.8" lengthAdjust="spacingAndGlyphs">5.</text>
<ellipse cx="621.5" cy="473.8" rx="128.1" ry="45.5" fill="none" stroke="#111" stroke-width="3.4"/>
<ellipse cx="621.5" cy="473.8" rx="128.1" ry="45.5" fill="none" stroke="#fff" stroke-width="1.1"/>
<ellipse cx="621.5" cy="473.8" rx="128.1" ry="45.5" fill="none" stroke="#222" stroke-width="0.35"/>
<line x1="623.6" y1="401" x2="623.6" y2="561.3" stroke="#111" stroke-width="1.5" stroke-dasharray="8,1.6"/>
<line x1="525.2" y1="464.1" x2="525.2" y2="422.0" stroke="#fa1422" stroke-width="1.2"/><polygon points="525.2,416.4 530.1,425.4 525.2,422.0 520.3,425.4" fill="#fa1422"/>
<line x1="532.0" y1="487.1" x2="532.0" y2="535.1" stroke="#fa1422" stroke-width="1.2"/><polygon points="532.0,540.7 527.1,531.7 532.0,535.1 536.9,531.7" fill="#fa1422"/>
<line x1="700.1" y1="464.1" x2="700.1" y2="407.3" stroke="#fa1422" stroke-width="1.2"/><polygon points="700.1,401.7 705.0,410.7 700.1,407.3 695.2,410.7" fill="#fa1422"/>
<line x1="702.4" y1="484.4" x2="702.4" y2="537.8" stroke="#fa1422" stroke-width="1.2"/><polygon points="702.4,543.4 697.5,534.4 702.4,537.8 707.3,534.4" fill="#fa1422"/>
<line x1="510.6" y1="473.4" x2="470.8" y2="473.4" stroke="#fa1422" stroke-width="1.2"/><polygon points="463.5,473.4 475.2,469.1 470.8,473.4 475.2,477.7" fill="#fa1422"/>
<line x1="724.4" y1="473.9" x2="776.8" y2="473.9" stroke="#fa1422" stroke-width="1.2"/><polygon points="784.1,473.9 772.4,478.2 776.8,473.9 772.4,469.6" fill="#fa1422"/>
<path d="M520.9,436.1 A4.1,1.3 0 0 1 529.1,436.1 L529.1,451.5 A4.1,1.3 0 0 1 520.9,451.5 Z" fill="url(#og)"/>
<path d="M528.1,500.6 A4.1,1.3 0 0 1 536.3,500.6 L536.3,516.0 A4.1,1.3 0 0 1 528.1,516.0 Z" fill="url(#og)"/>
<path d="M582.1,423.7 A4.1,1.3 0 0 1 590.3,423.7 L590.3,439.1 A4.1,1.3 0 0 1 582.1,439.1 Z" fill="url(#og)"/>
<path d="M583.8,511.4 A4.1,1.3 0 0 1 592.0,511.4 L592.0,526.8 A4.1,1.3 0 0 1 583.8,526.8 Z" fill="url(#og)"/>
<path d="M633.9,423.4 A4.1,1.3 0 0 1 642.1,423.4 L642.1,438.8 A4.1,1.3 0 0 1 633.9,438.8 Z" fill="url(#og)"/>
<path d="M696.0,430.1 A4.1,1.3 0 0 1 704.2,430.1 L704.2,445.5 A4.1,1.3 0 0 1 696.0,445.5 Z" fill="url(#og)"/>
<path d="M698.3,502.6 A4.1,1.3 0 0 1 706.5,502.6 L706.5,518.0 A4.1,1.3 0 0 1 698.3,518.0 Z" fill="url(#og)"/>
<path d="M633.3,513.8 A4.1,1.3 0 0 1 641.5,513.8 L641.5,529.2 A4.1,1.3 0 0 1 633.3,529.2 Z" fill="url(#og)"/>
<path d="M487.1,469.7 L500.5,469.7 A1.3,3.9 0 0 1 500.5,477.5 L487.1,477.5 A1.3,3.9 0 0 1 487.1,469.7 Z" fill="url(#ogv)"/>
<path d="M742.3,470.0 L756.2,470.0 A1.3,3.9 0 0 1 756.2,477.8 L742.3,477.8 A1.3,3.9 0 0 1 742.3,470.0 Z" fill="url(#ogv)"/>
<line x1="525.2" y1="436" x2="525.2" y2="452" stroke="#fa1422" stroke-width="0.9" opacity="0.7"/>
<line x1="532.0" y1="500" x2="532.0" y2="516" stroke="#fa1422" stroke-width="0.9" opacity="0.7"/>
<line x1="700.1" y1="430" x2="700.1" y2="446" stroke="#fa1422" stroke-width="0.9" opacity="0.7"/>
<line x1="702.4" y1="502" x2="702.4" y2="518" stroke="#fa1422" stroke-width="0.9" opacity="0.7"/>
<line x1="486" y1="473.6" x2="502" y2="473.6" stroke="#fa1422" stroke-width="0.9" opacity="0.7"/>
<line x1="741" y1="473.9" x2="757" y2="473.9" stroke="#fa1422" stroke-width="0.9" opacity="0.7"/>
<ellipse cx="460.8" cy="415.9" rx="3.1" ry="3.9" fill="#1010ee"/>
<ellipse cx="440.5" cy="453" rx="3.1" ry="3.9" fill="#1010ee"/>
<ellipse cx="438.5" cy="487.1" rx="3.1" ry="3.9" fill="#1010ee"/>
<ellipse cx="464.8" cy="492.1" rx="3.1" ry="3.9" fill="#1010ee"/>
<ellipse cx="449.3" cy="514.7" rx="3.1" ry="3.9" fill="#1010ee"/>
<ellipse cx="558.6" cy="486.7" rx="3.1" ry="3.9" fill="#1010ee"/>
<ellipse cx="581.8" cy="473.2" rx="3.1" ry="3.9" fill="#1010ee"/>
<ellipse cx="499.2" cy="558.2" rx="3.1" ry="3.9" fill="#1010ee"/>
<ellipse cx="528.5" cy="575.1" rx="3.1" ry="3.9" fill="#1010ee"/>
<ellipse cx="643.1" cy="453" rx="3.1" ry="3.9" fill="#1010ee"/>
<ellipse cx="673.8" cy="456.4" rx="3.1" ry="3.9" fill="#1010ee"/>
<ellipse cx="656.9" cy="467.5" rx="3.1" ry="3.9" fill="#1010ee"/>
<ellipse cx="646.5" cy="480.3" rx="3.1" ry="3.9" fill="#1010ee"/>
<ellipse cx="683.2" cy="480" rx="3.1" ry="3.9" fill="#1010ee"/>
<ellipse cx="664" cy="487.7" rx="3.1" ry="3.9" fill="#1010ee"/>
<ellipse cx="799.6" cy="439.9" rx="3.1" ry="3.9" fill="#1010ee"/>
<ellipse cx="740.6" cy="556.6" rx="3.1" ry="3.9" fill="#1010ee"/>
<ellipse cx="776.3" cy="556.9" rx="3.1" ry="3.9" fill="#1010ee"/>
<ellipse cx="657.9" cy="452.3" rx="3.5" ry="4.2" fill="#26ea1a"/>
<ellipse cx="636.7" cy="473.2" rx="3.5" ry="4.2" fill="#26ea1a"/>
<ellipse cx="668.7" cy="473.2" rx="3.5" ry="4.2" fill="#26ea1a"/>
<ellipse cx="660" cy="504.6" rx="3.5" ry="4.2" fill="#26ea1a"/>
<ellipse cx="732.1" cy="414.2" rx="3.5" ry="4.2" fill="#26ea1a"/>
<ellipse cx="758.8" cy="428.7" rx="3.5" ry="4.2" fill="#26ea1a"/>
<ellipse cx="782.4" cy="430.4" rx="3.5" ry="4.2" fill="#26ea1a"/>
<ellipse cx="772.9" cy="451.7" rx="3.5" ry="4.2" fill="#26ea1a"/>
<ellipse cx="808.4" cy="465.8" rx="3.5" ry="4.2" fill="#26ea1a"/>
<ellipse cx="805.3" cy="505.6" rx="3.5" ry="4.2" fill="#26ea1a"/>
<ellipse cx="773.6" cy="517.1" rx="3.5" ry="4.2" fill="#26ea1a"/>
<ellipse cx="738.2" cy="530.9" rx="3.5" ry="4.2" fill="#26ea1a"/>
<ellipse cx="763.2" cy="539.4" rx="3.5" ry="4.2" fill="#26ea1a"/>
<rect x="541.6" y="568.2" width="158.8" height="22.2" fill="#fff" stroke="#444" stroke-width="1.1"/>
<text x="571" y="582.9" font-size="7" font-family="Liberation Sans, sans-serif" fill="#000" stroke="#000" stroke-width="0.25" textLength="15.2" lengthAdjust="spacingAndGlyphs">Drug</text>
<ellipse cx="599.4" cy="580.5" rx="4.4" ry="5.4" fill="#1010ee"/>
<polygon points="606.8,580.4 616,576.2 616,578.1 630.6,578.1 630.6,576.2 639.8,580.4 630.6,584.6 630.6,582.7 616,582.7 616,584.6" fill="#000"/>
<circle cx="648.1" cy="580.2" r="5" fill="#26ea1a"/>
<text x="656.6" y="582.9" font-size="7" font-family="Liberation Sans, sans-serif" fill="#000" stroke="#000" stroke-width="0.25" textLength="21.9" lengthAdjust="spacingAndGlyphs">Inhiitor</text>
<text class="num" x="439.8" y="426" textLength="17.8" lengthAdjust="spacingAndGlyphs">4.</text>
</svg></body></html>
